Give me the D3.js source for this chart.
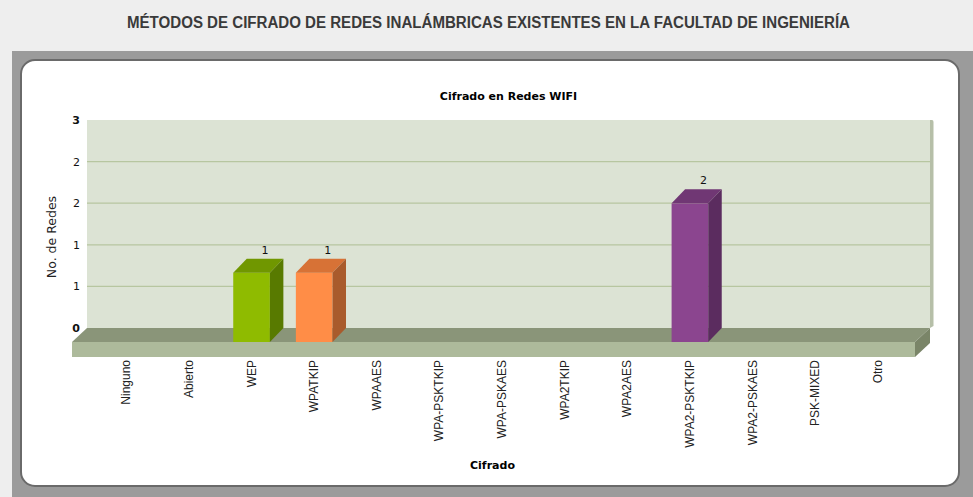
<!DOCTYPE html>
<html>
<head>
<meta charset="utf-8">
<script src="https://cdn.jsdelivr.net/npm/d3@7"></script>
<style>
  html, body { margin: 0; padding: 0; background: #eeeeee; }
  svg { display: block; }
</style>
</head>
<body>
<svg id="chart" width="973" height="497"></svg>
<script>
// Encryption methods found on the faculty's wireless networks
const categories = ["Ninguno", "Abierto", "WEP", "WPATKIP", "WPAAES", "WPA-PSKTKIP",
  "WPA-PSKAES", "WPA2TKIP", "WPA2AES", "WPA2-PSKTKIP", "WPA2-PSKAES", "PSK-MIXED", "Otro"];
const redes = [0, 0, 1, 1, 0, 0, 0, 0, 0, 2, 0, 0, 0];
const yTicks = [0, 0.6, 1.2, 1.8, 2.4, 3];

// face colours per bar: [front, top, side]
const palette = {
  "WEP": ["#8fbb00", "#709700", "#587a00"],
  "WPATKIP": ["#ff8d47", "#d77236", "#a95b2c"],
  "WPA2-PSKTKIP": ["#8b458f", "#703774", "#5b2c5f"]
};

const svg = d3.select("#chart");

// page title
svg.append("text")
  .attr("x", 488.5).attr("y", 28)
  .attr("text-anchor", "middle")
  .attr("font-family", "Liberation Sans, Arial, sans-serif")
  .attr("font-size", 16)
  .attr("font-weight", "bold")
  .attr("fill", "#3a3a3a")
  .attr("textLength", 723)
  .attr("lengthAdjust", "spacingAndGlyphs")
  .text("MÉTODOS DE CIFRADO DE REDES INALÁMBRICAS EXISTENTES EN LA FACULTAD DE INGENIERÍA");

// frame
svg.append("rect").attr("x", 12).attr("y", 51).attr("width", 961).attr("height", 446).attr("fill", "#9b9b9b");
svg.append("rect").attr("x", 21).attr("y", 60).attr("width", 938).attr("height", 426)
  .attr("rx", 14).attr("ry", 14)
  .attr("fill", "#ffffff").attr("stroke", "#6a6a6a").attr("stroke-width", 2);

// 3D geometry
const depthX = 15, depthY = 14;     // floor / wall depth
const barDX = 13.5, barDY = 14;     // bar depth

const x = d3.scaleBand().domain(categories)
  .range([95, 909.1]).paddingInner(0.415).paddingOuter(0.2075);
const y = d3.scaleLinear().domain([0, 3]).range([342, 134]);
const yBack = v => y(v) - depthY;

const left = 72, right = 915;        // front edge of floor
const wallL = left + depthX, wallR = right + depthX;

const g = svg.append("g");

// back wall
g.append("rect").attr("x", wallL).attr("y", yBack(3))
  .attr("width", wallR - wallL).attr("height", yBack(0) - yBack(3))
  .attr("fill", "#dce3d4");
// right wall edge
g.append("path")
  .attr("d", `M${wallR},${yBack(3)} h2 q1.5,0 1.5,2 V${yBack(0) - 2} l-3.5,2 Z`)
  .attr("fill", "#b6bfa8");

// gridlines
g.selectAll("line.grid").data(yTicks.slice(1, -1)).join("line")
  .attr("class", "grid")
  .attr("x1", wallL).attr("x2", wallR)
  .attr("y1", d => yBack(d)).attr("y2", d => yBack(d))
  .attr("stroke", "#b7c6a0").attr("stroke-width", 1.2);

// floor: top, front, side
g.append("path")
  .attr("d", `M${left},${y(0)} L${wallL},${yBack(0)} L${wallR},${yBack(0)} L${right},${y(0)} Z`)
  .attr("fill", "#8a9579");
g.append("rect").attr("x", left).attr("y", y(0)).attr("width", right - left).attr("height", 15)
  .attr("fill", "#adba9b");
g.append("path")
  .attr("d", `M${right},${y(0)} L${wallR},${yBack(0)} L${wallR},${yBack(0) + 15} L${right},${y(0) + 15} Z`)
  .attr("fill", "#7a8568");

// y tick labels
g.selectAll("text.ytick").data(yTicks).join("text")
  .attr("class", "ytick")
  .attr("x", 80).attr("y", d => yBack(d) + 4)
  .attr("text-anchor", "end")
  .attr("font-family", "DejaVu Sans, Verdana, sans-serif")
  .attr("font-size", 11)
  .attr("font-weight", (d, i) => (i === 0 || i === yTicks.length - 1) ? "bold" : "normal")
  .attr("fill", "#111")
  .text(d3.format(".0f"));

// bars
const data = categories.map((c, i) => ({ c, v: redes[i] })).filter(d => d.v > 0);
const bars = g.selectAll("g.bar").data(data).join("g").attr("class", "bar");
bars.append("rect")
  .attr("x", d => x(d.c)).attr("y", d => y(d.v))
  .attr("width", x.bandwidth()).attr("height", d => y(0) - y(d.v))
  .attr("fill", d => palette[d.c][0]);
bars.append("path")
  .attr("d", d => {
    const x0 = x(d.c), x1 = x0 + x.bandwidth(), t = y(d.v);
    return `M${x0},${t} L${x0 + barDX},${t - barDY} L${x1 + barDX},${t - barDY} L${x1},${t} Z`;
  })
  .attr("fill", d => palette[d.c][1]);
bars.append("path")
  .attr("d", d => {
    const x1 = x(d.c) + x.bandwidth(), t = y(d.v), b = y(0);
    return `M${x1},${t} L${x1 + barDX},${t - barDY} L${x1 + barDX},${b - barDY} L${x1},${b} Z`;
  })
  .attr("fill", d => palette[d.c][2]);
bars.append("text")
  .attr("x", d => x(d.c) + x.bandwidth() / 2 + barDX)
  .attr("y", d => y(d.v) - barDY - 5)
  .attr("text-anchor", "middle")
  .attr("font-family", "DejaVu Sans, Verdana, sans-serif")
  .attr("font-size", 11)
  .attr("fill", "#111")
  .text(d => d.v);

// x category labels
g.selectAll("text.xtick").data(categories).join("text")
  .attr("class", "xtick")
  .attr("transform", d => `translate(${x(d) + x.bandwidth() / 2 + 4},360) rotate(-90)`)
  .attr("text-anchor", "end")
  .attr("font-family", "Liberation Sans, Arial, sans-serif")
  .attr("font-size", 12)
  .attr("fill", "#222")
  .text(d => d);

// titles
svg.append("text")
  .attr("x", (wallL + wallR) / 2).attr("y", 100)
  .attr("text-anchor", "middle")
  .attr("font-family", "DejaVu Sans, Verdana, sans-serif")
  .attr("font-size", 11).attr("font-weight", "bold")
  .attr("fill", "#000")
  .text("Cifrado en Redes WIFI");
svg.append("text")
  .attr("x", (left + right) / 2 - 1).attr("y", 469)
  .attr("text-anchor", "middle")
  .attr("font-family", "DejaVu Sans, Verdana, sans-serif")
  .attr("font-size", 11).attr("font-weight", "bold")
  .attr("fill", "#000")
  .text("Cifrado");
svg.append("text")
  .attr("transform", "translate(56,237) rotate(-90)")
  .attr("text-anchor", "middle")
  .attr("font-family", "DejaVu Sans, Verdana, sans-serif")
  .attr("font-size", 12.5)
  .attr("fill", "#222")
  .text("No. de Redes");
</script>
</body>
</html>
